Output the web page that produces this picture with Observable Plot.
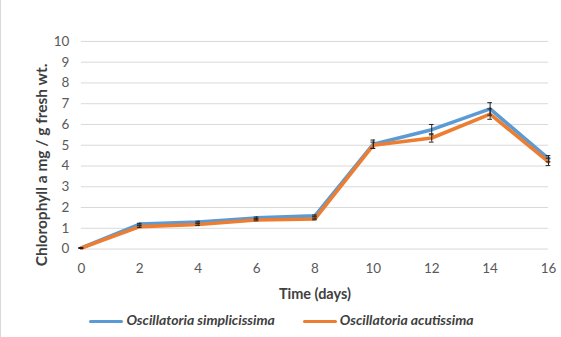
<!DOCTYPE html>
<html><head><meta charset="utf-8">
<script src="https://cdn.jsdelivr.net/npm/d3@7"></script>
<script src="https://cdn.jsdelivr.net/npm/@observablehq/plot@0.6"></script>
<style>
body{margin:0;background:#fff;font-family:Lato,"Open Sans",sans-serif;}
#wrap{position:relative;width:561px;height:337px;border-left:1px solid #d9d9d9;box-sizing:border-box;}
#legend{position:absolute;top:311px;left:0;width:561px;display:flex;justify-content:center;gap:28px;font-size:14px;font-style:italic;font-weight:bold;color:#404040;}
#legend span.sw{display:inline-block;width:34px;height:3.5px;vertical-align:middle;margin-right:3px;border-radius:2px;}
</style></head>
<body><div id="wrap"><div id="chart"></div><div id="legend"></div></div>
<script>
const days = [0, 2, 4, 6, 8, 10, 12, 14, 16];
const simplicissima = [0.05, 1.2, 1.3, 1.5, 1.6, 5.05, 5.75, 6.75, 4.35];
const simplicissimaErr = [0.02, 0.04, 0.04, 0.04, 0.04, 0.2, 0.25, 0.3, 0.15];
const acutissima = [0.05, 1.08, 1.18, 1.4, 1.45, 5.0, 5.35, 6.5, 4.2];
const acutissimaErr = [0.02, 0.04, 0.04, 0.04, 0.04, 0.15, 0.2, 0.25, 0.18];
const seriesNames = ["Oscillatoria simplicissima", "Oscillatoria acutissima"];
const colors = ["#5b9bd5", "#ed7d31"];
const yTicks = [0,1,2,3,4,5,6,7,8,9,10];
const xTicks = [0,2,4,6,8,10,12,14,16];

const rows = [];
[simplicissima, acutissima].forEach((vals, si) => {
  const errs = si === 0 ? simplicissimaErr : acutissimaErr;
  days.forEach((d, i) => rows.push({series: seriesNames[si], day: d, value: vals[i], err: errs[i]}));
});
const capHalf = 0.08;

const chart = Plot.plot({
  width: 561, height: 305,
  marginLeft: 80, marginRight: 13, marginTop: 41, marginBottom: 56,
  style: {fontFamily: "Lato, 'Open Sans', sans-serif", fontSize: "13.5px", color: "#595959", background: "#fff"},
  x: {domain: [0, 16], label: null},
  y: {domain: [0, 10], label: null},
  color: {domain: seriesNames, range: colors},
  marks: [
    Plot.gridY(yTicks, {stroke: "#d9d9d9", strokeOpacity: 1, strokeWidth: 1}),
    Plot.axisX({ticks: xTicks, tickSize: 0, tickPadding: 14, fontSize: 13.5}),
    Plot.axisY({ticks: yTicks, tickSize: 0, tickPadding: 12, fontSize: 13.5}),
    Plot.line(rows, {x: "day", y: "value", z: "series", stroke: "series", strokeWidth: 3.6, strokeLinejoin: "round", strokeLinecap: "round"}),
    Plot.ruleX(rows, {x: "day", y1: d => d.value - d.err, y2: d => d.value + d.err, stroke: "#222", strokeWidth: 1}),
    Plot.ruleY(rows, {y: d => d.value - d.err, x1: d => d.day - capHalf, x2: d => d.day + capHalf, stroke: "#222", strokeWidth: 1}),
    Plot.ruleY(rows, {y: d => d.value + d.err, x1: d => d.day - capHalf, x2: d => d.day + capHalf, stroke: "#222", strokeWidth: 1}),
    Plot.text(["Time (days)"], {x: () => 8.0, y: () => 0, dy: 45, text: d => d, textAnchor: "middle", fontWeight: "bold", fontSize: 14.5, fill: "#404040"}),
    Plot.text(["Chlorophyll a mg / g fresh wt."], {x: () => 0, y: () => 4.05, dx: -39, rotate: -90, textAnchor: "middle", text: d => d, fontWeight: "bold", fontSize: 15.5, fill: "#404040"})
  ]
});
document.getElementById("chart").appendChild(chart);

const legend = document.getElementById("legend");
seriesNames.forEach((n, i) => {
  const item = document.createElement("div");
  item.innerHTML = `<span class="sw" style="background:${colors[i]}"></span>${n}`;
  legend.appendChild(item);
});
</script>
</body></html>
